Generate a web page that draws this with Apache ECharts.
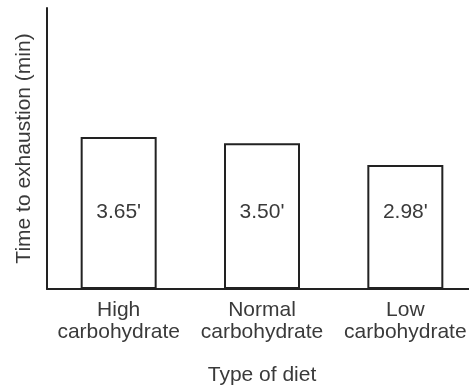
<!DOCTYPE html>
<html>
<head>
<meta charset="utf-8">
<script src="https://cdn.jsdelivr.net/npm/echarts@6/dist/echarts.min.js"></script>
<style>
html,body{margin:0;padding:0;background:#fff;}
#chart{width:469px;height:385px;}
</style>
</head>
<body>
<div id="chart"></div>
<script>
var categories = ["High\ncarbohydrate", "Normal\ncarbohydrate", "Low\ncarbohydrate"];
var values = [3.65, 3.50, 2.98];
var xAxisName = "Type of diet";
var yAxisName = "Time to exhaustion (min)";

var FONT = "'Liberation Sans', Arial, Helvetica, sans-serif";
var TEXT = "#3a3a3a";
var LINE = "#222";

var chart = echarts.init(document.getElementById('chart'), null, {renderer: 'canvas'});
chart.setOption({
  backgroundColor: '#fff',
  animation: false,
  grid: {left: 47, top: 8, width: 430, height: 281, containLabel: false, outerBoundsMode: 'none'},
  xAxis: {
    type: 'category',
    data: categories,
    name: xAxisName,
    nameLocation: 'middle',
    nameGap: 76,
    nameTextStyle: {fontFamily: FONT, fontSize: 21, color: TEXT},
    axisLine: {lineStyle: {color: LINE, width: 2}},
    axisTick: {show: false},
    axisLabel: {fontFamily: FONT, fontSize: 21, color: TEXT, lineHeight: 22, margin: 10, interval: 0}
  },
  yAxis: {
    type: 'value',
    min: 0,
    max: 6.75,
    name: yAxisName,
    nameLocation: 'middle',
    nameGap: 12,
    nameRotate: 90,
    nameTextStyle: {fontFamily: FONT, fontSize: 21, color: TEXT},
    axisLine: {show: true, lineStyle: {color: LINE, width: 2}},
    axisTick: {show: false},
    axisLabel: {show: false},
    splitLine: {show: false}
  },
  series: [{
    type: 'bar',
    data: values,
    barWidth: 76,
    itemStyle: {color: '#fff', borderColor: LINE, borderWidth: 2},
    label: {
      show: true,
      position: 'insideBottom',
      distance: 66,
      fontFamily: FONT,
      fontSize: 21,
      color: TEXT,
      formatter: function (p) { return p.value.toFixed(2) + "'"; }
    }
  }]
});
</script>
</body>
</html>
